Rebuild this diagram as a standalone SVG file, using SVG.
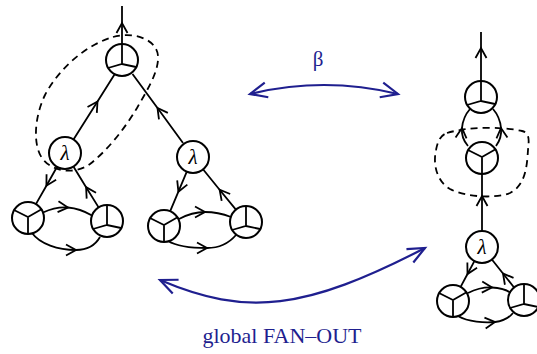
<svg xmlns="http://www.w3.org/2000/svg" xmlns:xlink="http://www.w3.org/1999/xlink" width="537" height="354" viewBox="0 0 537 354">
<style>
.e{fill:none;stroke:#000;stroke-width:1.8;marker-mid:url(#ah)}
.d{fill:none;stroke:#000;stroke-width:1.8;stroke-dasharray:7 5}
.lam{font-family:"Liberation Serif","DejaVu Serif",serif;font-style:italic;font-size:21px;text-anchor:middle}
.bl{fill:none;stroke:#1f1f8f;stroke-width:2.2;marker-start:url(#bh);marker-end:url(#bh)}
.bt{font-family:"Liberation Serif","DejaVu Serif",serif;fill:#1f1f8f;text-anchor:middle}
</style>
<defs>
<marker id="ah" viewBox="-12 -7 14 14" refX="0" refY="0" markerWidth="14" markerHeight="14" markerUnits="userSpaceOnUse" orient="auto" overflow="visible">
<path d="M-10,-5.5 L0,0 L-10,5.5" fill="none" stroke="#000" stroke-width="1.8"/>
</marker>
<marker id="bh" viewBox="-20 -10 24 20" refX="0" refY="0" markerWidth="24" markerHeight="20" markerUnits="userSpaceOnUse" orient="auto-start-reverse" overflow="visible">
<path d="M-17,-7.5 L0,0 L-17,7.5" fill="none" stroke="#1f1f8f" stroke-width="2.2"/>
</marker>
<g id="fM"><circle r="16" fill="#fff" stroke="#000" stroke-width="2"/><path d="M0,-16 L0,4 M-14,8 L0,4 L14,7" fill="none" stroke="#000" stroke-width="1.8"/></g>
<g id="fY"><circle r="16" fill="#fff" stroke="#000" stroke-width="2"/><path d="M-14,-8 L0,-1 L14,-9 M0,-1 L0,16" fill="none" stroke="#000" stroke-width="1.8"/></g>
<g id="lm"><circle r="16" fill="#fff" stroke="#000" stroke-width="2"/><text class="lam" x="0" y="7">λ</text></g>
</defs>
<rect width="537" height="354" fill="#fff"/>

<g id="connectors">
<path class="e" d="M122,44 L122,23 L122,6"/>
<path class="e" d="M73.5,139.5 L97.5,101.5 L114.5,74.5"/>
<path class="e" d="M183,143 L157.5,108 L132.5,74"/>
<path class="e" d="M56.8,167.3 L46.4,185.7 L35.9,204.1"/>
<path class="e" d="M98.6,207.4 L86.1,187.2 L73.7,167"/>
<path class="e" d="M43,212.5 Q56,206.5 68,207.5 T92,215.5"/>
<path class="e" d="M32,233 C40,244 58,250 76,250 C88,250 96,244 100,237"/>
<path class="e" d="M186.6,172.2 L178.4,191.7 L170.2,211.2"/>
<path class="e" d="M235.9,209.6 L219.6,189.7 L203.4,169.8"/>
<path class="e" d="M179,219 Q192,212 205,212 T231,217"/>
<path class="e" d="M168,241 C178,247 195,248 207,248 C220,248 230,242 236,235"/>
<path class="e" d="M481,81 L481,48 L481,32"/>
<path class="e" d="M468,146 Q461,138 462,128 Q463,117 470,109"/>
<path class="e" d="M496,146 Q502,138 501,128 Q500,117 493,109"/>
<path class="e" d="M482,231 L482,196 L482,174"/>
<path class="e" d="M474.4,261.1 L467.5,274 L460.6,286.9"/>
<path class="e" d="M514.1,287.5 L503,273.5 L491.9,259.5"/>
<path class="e" d="M468,293 Q480,287 492,287.5 T511,293"/>
<path class="e" d="M458,316 C468,322 485,323 495,322 C503,321 509,318 513,313"/>
<path class="bl" d="M250,94 Q324,76 398,94"/>
<path class="bl" d="M160,280 C247,317 305,310 425,248"/>
</g>

<g id="fanA"><use xlink:href="#fM" x="122" y="60"/></g>
<g id="lambdaA"><use xlink:href="#lm" x="65" y="153"/></g>
<g id="lambdaB"><use xlink:href="#lm" x="193" y="157"/></g>
<g id="fanB1"><use xlink:href="#fY" x="28" y="218"/></g>
<g id="fanB2"><use xlink:href="#fM" x="107" y="221"/></g>
<g id="fanC1"><use xlink:href="#fY" x="164" y="226"/></g>
<g id="fanC2"><use xlink:href="#fM" x="246" y="222"/></g>
<g id="fanD"><use xlink:href="#fM" x="481" y="97"/></g>
<g id="fanE"><use xlink:href="#fY" x="482" y="158"/></g>
<g id="lambdaF"><use xlink:href="#lm" x="482" y="247"/></g>
<g id="fanF1"><use xlink:href="#fY" x="453" y="301"/></g>
<g id="fanF2"><use xlink:href="#fM" x="524" y="300"/></g>

<g id="regions">
<path class="d" d="M113,37 C135,31 160,40 158,60 C157,75 146,92 137,108 C125,128 108,150 90,164 C75,175 52,172 42,158 C33,145 34,118 45,95 C58,70 85,45 113,37 Z"/>
<path class="d" d="M447,133 C470,126 505,127 522,131 C530,133 529,140 528,150 C527,165 526,185 510,193 C495,199 465,197 450,189 C436,181 433,163 436,150 C438,140 441,135 447,133 Z"/>
</g>

<g id="labels">
<text class="bt" x="318" y="66" font-size="21">β</text>
<text class="bt" x="282" y="343" font-size="22">global FAN–OUT</text>
</g>
</svg>
